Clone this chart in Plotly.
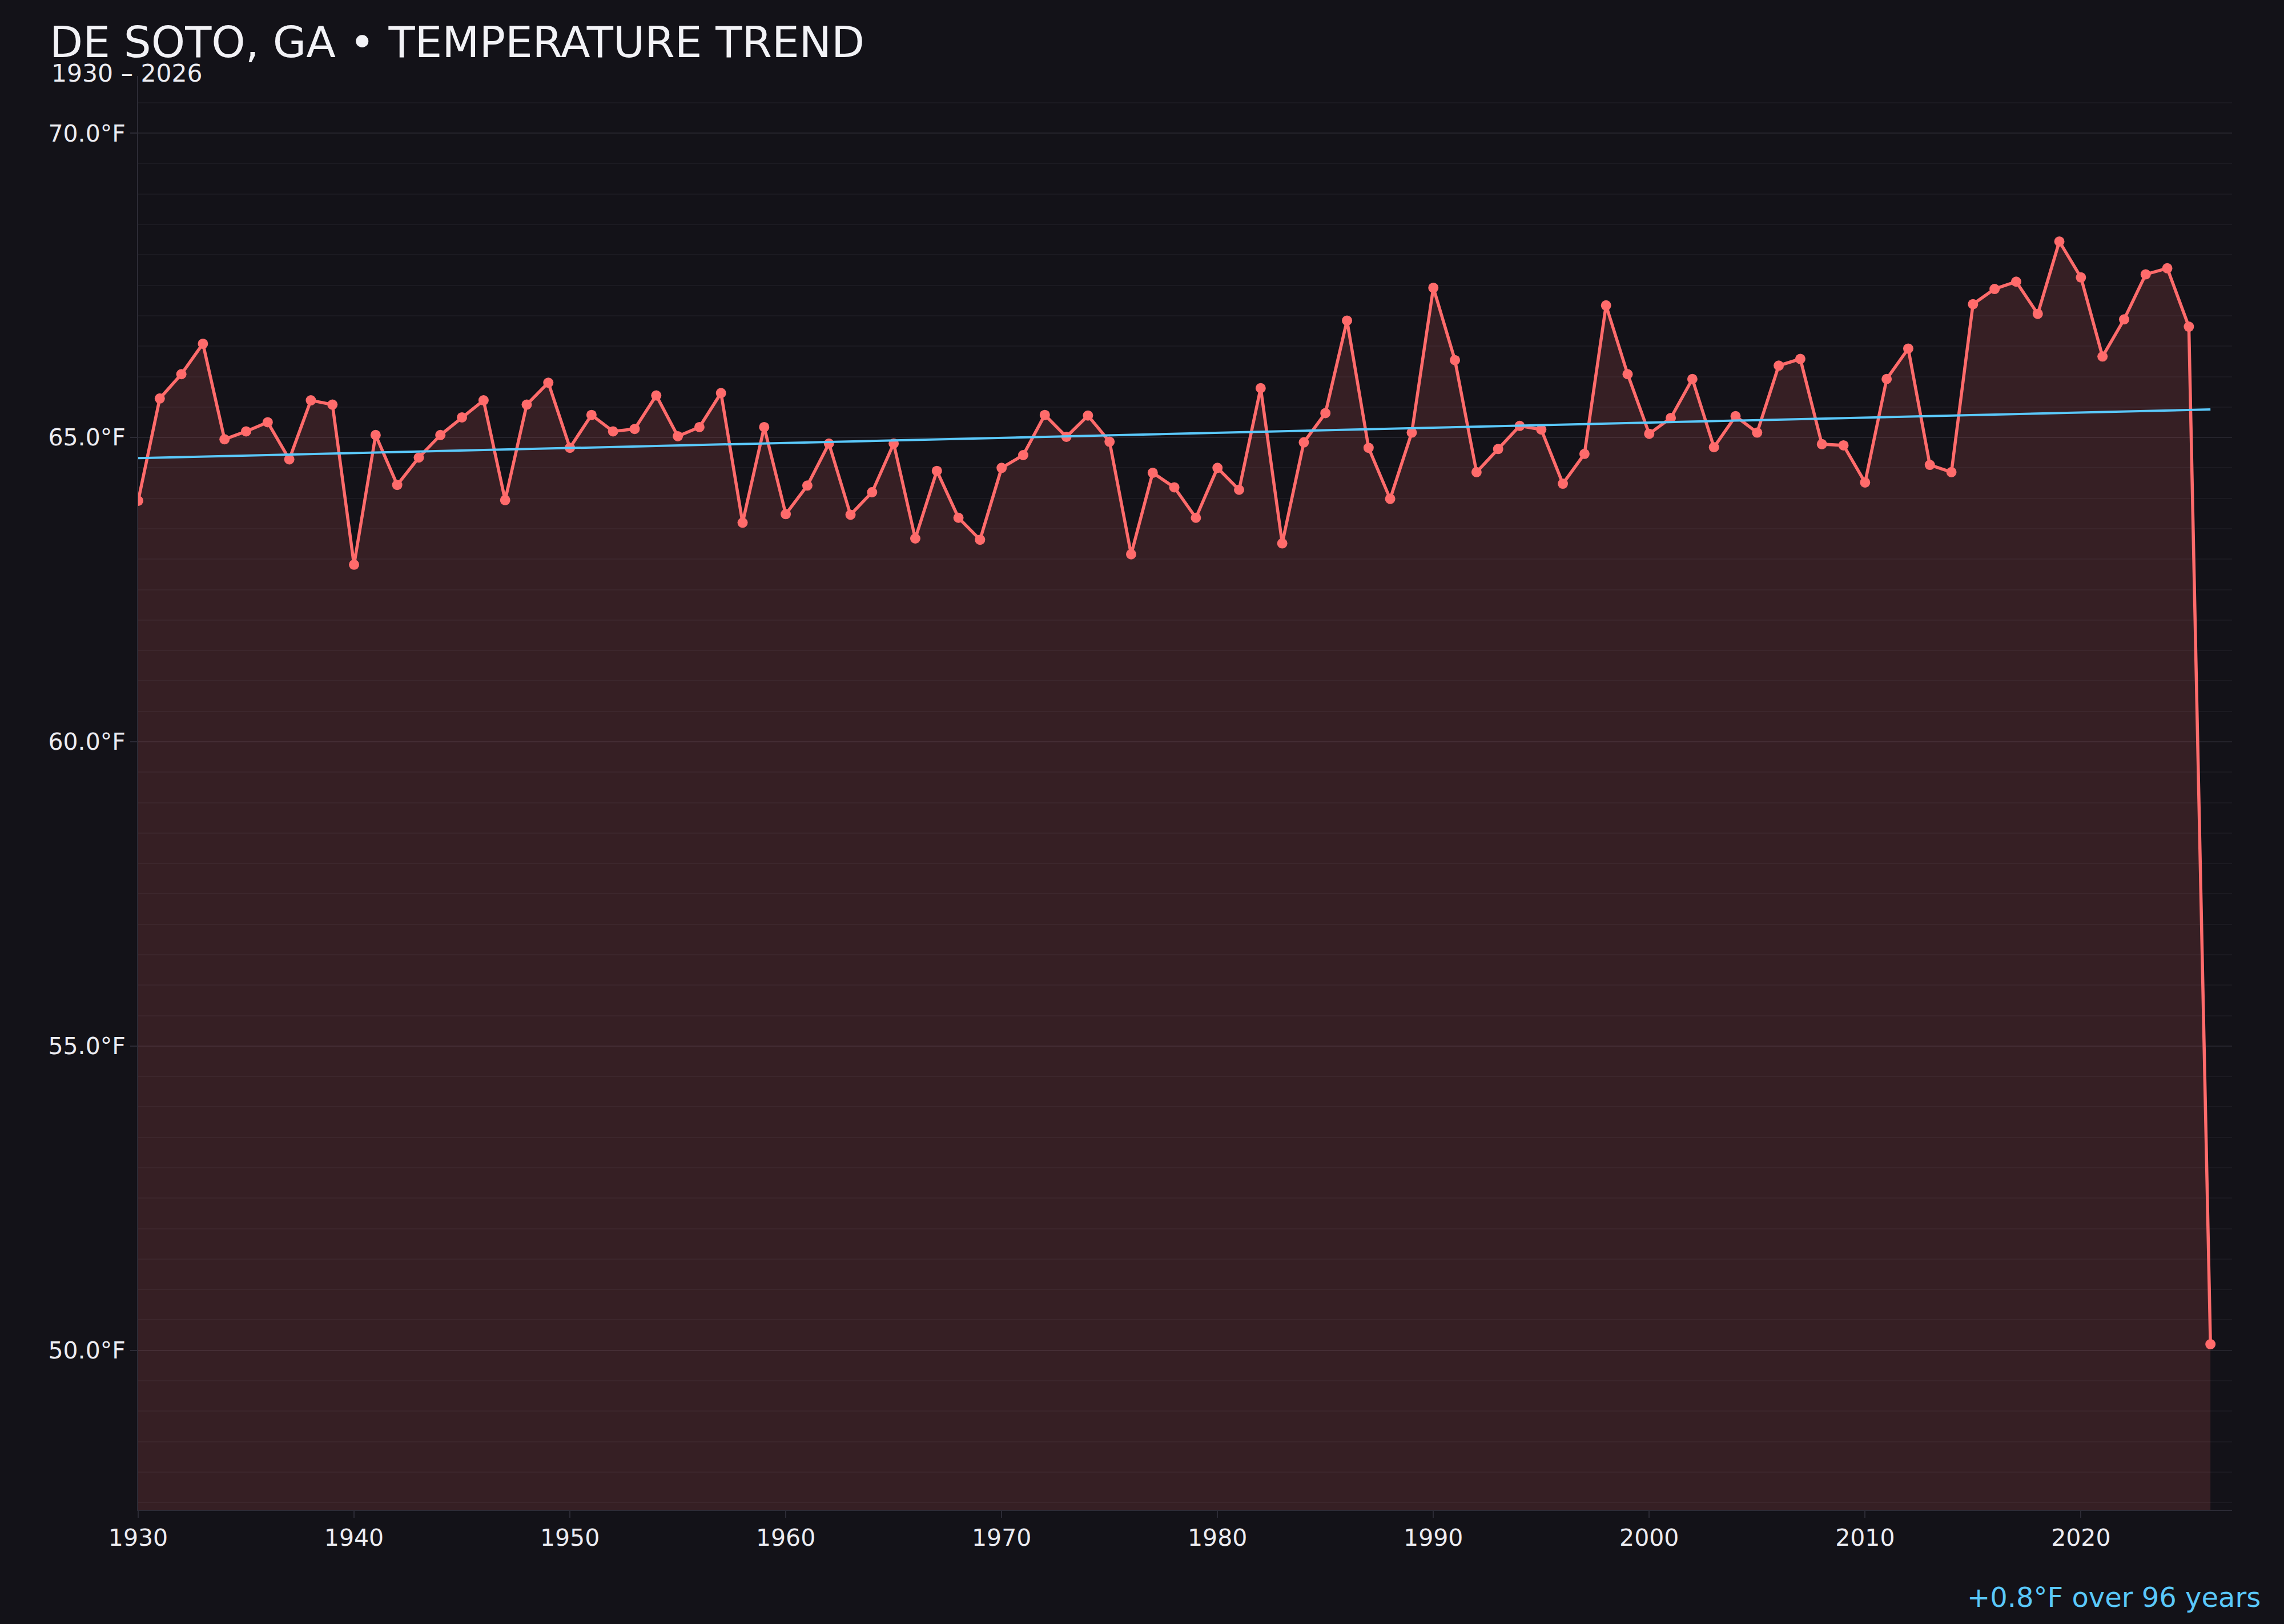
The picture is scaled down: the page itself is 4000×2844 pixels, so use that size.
import plotly.graph_objects as go

# annual mean temperature, De Soto GA
years = list(range(1930, 2027))
avg_temp_f = [
    63.96, 65.64, 66.04, 66.54, 64.97, 65.10, 65.25, 64.64, 65.61, 65.54,  # 1930s
    62.91, 65.04, 64.22, 64.67, 65.04, 65.33, 65.61, 63.97, 65.54, 65.90,  # 1940s
    64.83, 65.37, 65.10, 65.14, 65.69, 65.02, 65.17, 65.73, 63.60, 65.17,  # 1950s
    63.74, 64.21, 64.90, 63.73, 64.10, 64.90, 63.34, 64.45, 63.68, 63.32,  # 1960s
    64.50, 64.71, 65.37, 65.01, 65.36, 64.93, 63.08, 64.42, 64.18, 63.68,  # 1970s
    64.50, 64.14, 65.81, 63.26, 64.92, 65.40, 66.92, 64.83, 63.99, 65.08,  # 1980s
    67.46, 66.27, 64.43, 64.81, 65.19, 65.13, 64.24, 64.73, 67.17, 66.04,  # 1990s
    65.06, 65.32, 65.96, 64.84, 65.35, 65.08, 66.18, 66.29, 64.89, 64.87,  # 2000s
    64.26, 65.96, 66.46, 64.55, 64.43, 67.19, 67.44, 67.56, 67.03, 68.22,  # 2010s
    67.63, 66.33, 66.94, 67.68, 67.78, 66.82, 50.10,                       # 2020s
]

# linear trend endpoints
trend_years = [1930, 2026]
trend_temp_f = [64.66, 65.46]

BG = '#131218'
RED = '#ff6b6b'
BLUE = '#5ac8fa'
TEXT = '#ececf1'
FONT = 'DejaVu Sans'

W, H = 4000, 2844
M_L, M_R, M_T, M_B = 242, 91, 133, 200
PLOT_W = W - M_L - M_R
PLOT_H = H - M_T - M_B

fig = go.Figure()

fig.add_trace(go.Scatter(
    x=years, y=avg_temp_f,
    mode='lines+markers',
    line=dict(color=RED, width=5.5),
    marker=dict(color=RED, size=18),
    fill='tozeroy',
    fillcolor='rgba(255,107,107,0.15)',
    name='Annual mean',
))

fig.add_trace(go.Scatter(
    x=trend_years, y=trend_temp_f,
    mode='lines',
    line=dict(color=BLUE, width=4),
    name='Trend',
))

fig.update_layout(
    width=W,
    height=H,
    paper_bgcolor=BG,
    plot_bgcolor=BG,
    showlegend=False,
    margin=dict(l=M_L, r=M_R, t=M_T, b=M_B),
    font=dict(family=FONT, color=TEXT, size=41),
    title=dict(
        text='DE SOTO, GA • TEMPERATURE TREND',
        font=dict(family=FONT, size=75.5, color='#f2f2f6'),
        x=87 / W, xanchor='left', xref='container',
        y=1 - 74 / H, yanchor='middle', yref='container',
    ),
    annotations=[
        dict(
            text='1930 – 2026',
            xref='paper', yref='paper',
            x=(88 - M_L) / PLOT_W, y=1 + (M_T - 129) / PLOT_H,
            xanchor='left', yanchor='middle',
            showarrow=False,
            font=dict(family=FONT, size=42.5, color=TEXT),
        ),
        dict(
            text='+0.8°F over 96 years',
            xref='paper', yref='paper',
            x=(3961 - M_L) / PLOT_W, y=-(2797 - (H - M_B)) / PLOT_H,
            xanchor='right', yanchor='middle',
            showarrow=False,
            font=dict(family=FONT, size=48, color=BLUE),
        ),
    ],
)

fig.update_xaxes(
    range=[1930, 2027],
    dtick=10, tick0=1930, tickformat='d',
    showgrid=False, zeroline=False,
    showline=True, linecolor='#2c2b35', linewidth=2,
    ticks='outside', ticklen=12, tickcolor='#2c2b35', tickwidth=2,
    tickfont=dict(family=FONT, size=41, color=TEXT),
)

fig.update_yaxes(
    range=[47.38, 70.94],
    dtick=5, tick0=0, tickformat='.1f', ticksuffix='°F',
    showgrid=True, gridcolor='#24232b', gridwidth=2,
    minor=dict(dtick=0.5, showgrid=True, gridcolor='#1b1a21', gridwidth=1.5),
    zeroline=False,
    showline=True, linecolor='#2c2b35', linewidth=2,
    ticks='outside', ticklen=12, tickcolor='#2c2b35', tickwidth=2,
    tickfont=dict(family=FONT, size=41, color=TEXT),
)

# drop the default page margin so the figure sits flush in the window
fig.write_html(
    "out.html",
    config={'displayModeBar': False},
    post_script="document.body.style.margin='0';document.body.style.overflow='hidden';",
)
